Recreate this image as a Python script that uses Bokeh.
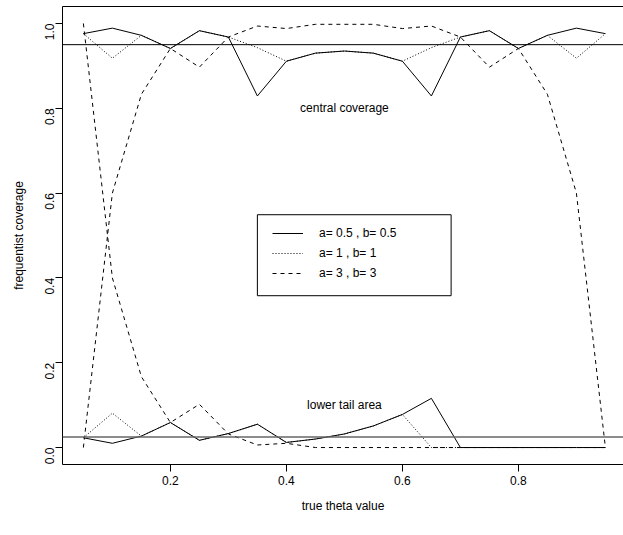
import math
from bokeh.plotting import figure
from bokeh.models import (Span, BoxAnnotation, Legend, LegendItem, LinearAxis,
                          FixedTicker, Range1d, NumeralTickFormatter)
from bokeh.core.properties import value
from bokeh.embed import file_html
from bokeh.resources import INLINE

FONT = "Liberation Sans"

# ---- data -------------------------------------------------------------
theta = [0.05, 0.10, 0.15, 0.20, 0.25, 0.30, 0.35, 0.40, 0.45, 0.50,
         0.55, 0.60, 0.65, 0.70, 0.75, 0.80, 0.85, 0.90, 0.95]

# central coverage
central_a05 = [0.976, 0.989, 0.972, 0.941, 0.983, 0.968, 0.829, 0.911, 0.930, 0.935,
               0.930, 0.911, 0.829, 0.968, 0.983, 0.941, 0.972, 0.989, 0.976]
central_a1 = [0.976, 0.918, 0.972, 0.941, 0.983, 0.968, 0.943, 0.911, 0.930, 0.935,
              0.930, 0.911, 0.943, 0.968, 0.983, 0.941, 0.972, 0.918, 0.976]
central_a3 = [0.000, 0.600, 0.833, 0.941, 0.897, 0.968, 0.994, 0.988, 0.998, 0.998,
              0.998, 0.988, 0.994, 0.968, 0.897, 0.941, 0.833, 0.600, 0.000]

# lower tail area
lower_a05 = [0.023, 0.010, 0.027, 0.059, 0.017, 0.033, 0.055, 0.012, 0.020, 0.032,
             0.051, 0.078, 0.116, 0.000, 0.000, 0.000, 0.000, 0.000, 0.000]
lower_a1 = [0.023, 0.081, 0.027, 0.059, 0.017, 0.033, 0.055, 0.012, 0.020, 0.032,
            0.051, 0.078, 0.000, 0.000, 0.000, 0.000, 0.000, 0.000, 0.000]
lower_a3 = [1.000, 0.400, 0.167, 0.059, 0.102, 0.032, 0.006, 0.010, 0.000, 0.000,
            0.000, 0.000, 0.000, 0.000, 0.000, 0.000, 0.000, 0.000, 0.000]

legend_labels = ["a= 0.5 , b= 0.5", "a= 1 , b= 1", "a= 3 , b= 3"]
reference_levels = [0.95, 0.025]
note_text = ["central coverage", "lower tail area"]
note_x = [0.5, 0.5]
note_y = [0.8, 0.1]
x_ticks = [0.2, 0.4, 0.6, 0.8]
y_ticks = [0.0, 0.2, 0.4, 0.6, 0.8, 1.0]

# ---- figure -----------------------------------------------------------
p = figure(width=623, height=535, output_backend="svg", toolbar_location=None,
           x_range=Range1d(0.014, 0.9812), y_range=Range1d(-0.04, 1.04),
           min_border_left=62, min_border_right=0, min_border_top=6,
           min_border_bottom=71,
           x_axis_label="true theta value", y_axis_label="frequentist coverage")
p.grid.visible = False
p.outline_line_color = None
p.background_fill_color = "white"
p.border_fill_color = "white"

for ax in (p.xaxis[0], p.yaxis[0]):
    ax.axis_line_color = "black"
    ax.major_tick_line_color = "black"
    ax.major_tick_out = 7
    ax.major_tick_in = 0
    ax.minor_tick_line_color = None
    ax.major_label_text_font = FONT
    ax.major_label_text_font_size = "12px"
    ax.major_label_text_color = "black"
    ax.axis_label_text_font = FONT
    ax.axis_label_text_font_size = "12px"
    ax.axis_label_text_font_style = "normal"
    ax.axis_label_text_color = "black"

p.xaxis[0].ticker = FixedTicker(ticks=x_ticks)
p.xaxis[0].major_label_standoff = 4
p.xaxis[0].axis_label_standoff = 11
p.yaxis[0].ticker = FixedTicker(ticks=y_ticks)
p.yaxis[0].formatter = NumeralTickFormatter(format="0.0")
p.yaxis[0].major_label_orientation = math.pi / 2
p.yaxis[0].major_label_standoff = 6
p.yaxis[0].axis_label_standoff = 12

top_axis = LinearAxis(ticker=FixedTicker(ticks=[]), major_label_text_font_size="0px",
                      major_tick_out=0, major_tick_in=0, minor_tick_line_color=None,
                      axis_line_color="black")
p.add_layout(top_axis, "above")

p.add_layout(Span(location=reference_levels[0], dimension="width",
                  line_color="black", line_width=1))
p.add_layout(Span(location=reference_levels[1], dimension="width",
                  line_color="#666666", line_width=1.5))

styles = [dict(line_dash="solid"), dict(line_dash="1 2"), dict(line_dash="4 4")]
central = [central_a05, central_a1, central_a3]
lower = [lower_a05, lower_a1, lower_a3]
renderers = []
for c, l, st in zip(central, lower, styles):
    r = p.line(theta, c, line_color="black", line_width=1, **st)
    p.line(theta, l, line_color="black", line_width=1, **st)
    renderers.append(r)

p.text(x=note_x, y=note_y, text=note_text, text_font=value(FONT),
       text_font_size="12px", text_align="center", text_baseline="middle",
       text_color="black")

p.add_layout(BoxAnnotation(left=0.35, right=0.684, bottom=0.358, top=0.549,
                           fill_color="white", fill_alpha=1.0,
                           line_color="black", line_alpha=1.0, line_width=1))

legend = Legend(items=[LegendItem(label=value(t), renderers=[r])
                       for t, r in zip(legend_labels, renderers)],
                location=(210, 181), border_line_color=None,
                background_fill_alpha=0.0, glyph_width=31, glyph_height=20,
                label_height=20, label_standoff=16, spacing=0, padding=0,
                margin=0, label_text_font=FONT, label_text_font_size="12px",
                label_text_color="black")
p.add_layout(legend)

open("out.html", "w").write(file_html(p, INLINE))
